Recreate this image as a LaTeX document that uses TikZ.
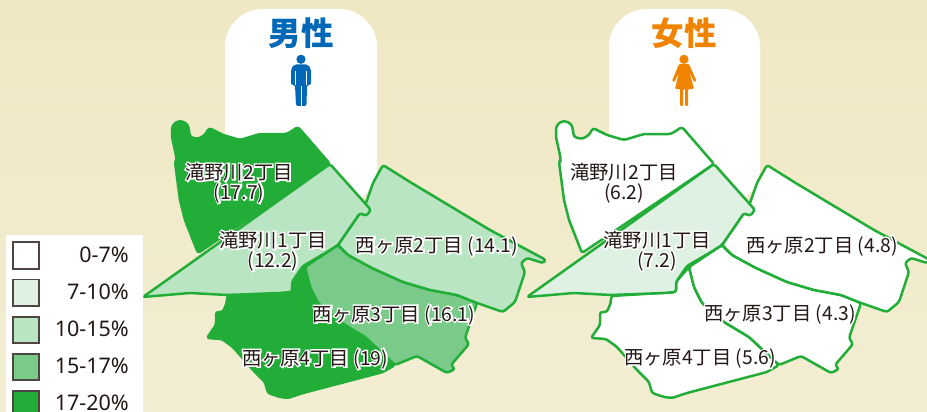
\documentclass[tikz,border=0pt]{standalone}
\usepackage{fontspec}
\setmainfont{Noto Sans CJK JP}
\newfontfamily\legendfont{Noto Sans}
\definecolor{mapgreen}{HTML}{22AC38}
\definecolor{lvlb}{HTML}{DEF1E3}
\definecolor{lvlc}{HTML}{BAE5C2}
\definecolor{lvld}{HTML}{7ACB8A}
\definecolor{inkc}{HTML}{231815}
\definecolor{boy}{HTML}{0068B7}
\definecolor{girl}{HTML}{F08300}
\definecolor{bgtop}{HTML}{EFE8C3}
\definecolor{bgbot}{HTML}{F3EED3}
\newcommand{\halo}[1]{\leavevmode\rlap{\textcolor{white}{\special{pdf:code 2 Tr 3 w}#1\special{pdf:code 0 Tr 1 w}}}#1}
\newcommand{\pTakiTwo}{(172,137) -- (172,127) -- (176,122) -- (182,121) -- (188,125) -- (190,137) -- (198,139) -- (205,135) -- (209,128) -- (223,135) -- (240,140) -- (260,134) -- (287,134) -- (298,127) -- (330,164) -- (198,253) -- (185,220) -- (180,200) -- (175,162) -- (177,160) -- cycle}
\newcommand{\pTakiOne}{(143,297) -- (330,164) -- (371,210) -- (366,216) -- (360,213) -- (338,245) -- (327,252) -- (303,266) -- (292,282) -- (292,292) -- (280,293) -- (227,295) -- (190,293) -- cycle}
\newcommand{\pNishiTwo}{(338,245) -- (360,213) -- (366,203) -- (373,183) -- (383,165) -- (410,182) -- (490,230) -- (546,260) -- (543,263) -- (527,258) -- (521,263) -- (525,272) -- (515,302) -- (503,312) -- (477,303) -- (457,295) -- (430,290) -- (403,282) -- (372,268) -- (348,255) -- cycle}
\newcommand{\pNishiThree}{(338,245) -- (348,255) -- (372,268) -- (403,282) -- (430,290) -- (457,295) -- (477,303) -- (465,338) -- (469,344) -- (451,365) -- (455,369) -- (447,373) -- (417,356) -- (395,365) -- (365,337) -- (340,322) -- (318,303) -- (310,287) -- (305,267) -- cycle}
\newcommand{\pNishiFour}{(305,267) -- (310,287) -- (318,303) -- (340,322) -- (365,337) -- (395,365) -- (383,372) -- (303,393) -- (288,398) -- (280,397) -- (268,393) -- (265,382) -- (253,370) -- (233,347) -- (222,339) -- (207,338) -- (216,325) -- (216,312) -- (223,312) -- (227,302) -- (227,296) -- (292,292) -- (292,282) -- cycle}
\tikzset{
  ward/.style={draw=mapgreen,line width=2.5pt,line join=round,rounded corners=2.5pt},
  wardtext/.style={inner sep=0pt,text=inkc,font=\fontsize{19.3}{22}\selectfont},
  swatch/.style={draw=inkc!80,line width=1.2pt},
  legendtext/.style={inner sep=0pt,anchor=east,text=inkc,font=\legendfont\fontsize{21.5}{24}\selectfont},
  heading/.style={inner sep=0pt,font=\fontsize{32.5}{36}\selectfont\bfseries},
  panel/.style={fill=white,rounded corners=38pt}
}
\begin{document}
\begin{tikzpicture}[x=1pt,y=-1pt]
\useasboundingbox (0,0) rectangle (927,412);
\shade[top color=bgtop,bottom color=bgbot] (0,0) rectangle (927,412);
% panels
\fill[panel] (225,9) rectangle (377,205);
\fill[panel] (609,9) rectangle (760,205);
\node[heading,text=boy] (mtitle) at (301,33) {\halo{男性}};
\node[heading,text=girl] (ftitle) at (684,33) {\halo{女性}};
% male icon
\fill[boy] (301,59.3) circle (4.6);
\fill[boy,rounded corners=2pt] (291,69) -- (294,64.5) -- (308,64.5) -- (311,69) -- (311,85) -- (307,85) -- (306.5,106) -- (296,106) -- (295,85) -- (291,85) -- cycle;
\draw[white,line width=.6pt] (301,86) -- (301,106);
\draw[white,line width=.5pt] (295.5,71) -- (295.5,85) (306.5,71) -- (306.5,85);
% female icon
\fill[girl] (684,59.3) circle (4.6);
\fill[girl,rounded corners=1pt] (679,64) -- (689,64) -- (696.5,81) -- (694,82) -- (689.5,72) -- (694,89) -- (688,89) -- (688,106) -- (685,106) -- (685,89) -- (683,89) -- (683,106) -- (680,106) -- (680,89) -- (675,89) -- (679,72) -- (674.5,82) -- (672,81) -- cycle;
% legend
\fill[white] (6,235) rectangle (143,412);
\draw[swatch,fill=white] (13,242) rectangle (39,269);
\draw[swatch,fill=lvlb] (13,279.5) rectangle (39,306);
\draw[swatch,fill=lvlc] (13,317) rectangle (39,343);
\draw[swatch,fill=lvld] (13,354) rectangle (39,380);
\draw[swatch,fill=mapgreen] (13,391) rectangle (39,417);
\node[legendtext] (la) at (129,255) {0-7\%};
\node[legendtext] (lb) at (129,292) {7-10\%};
\node[legendtext] (lc) at (129,329) {10-15\%};
\node[legendtext] (ld) at (129,366) {15-17\%};
\node[legendtext] (le) at (129,403) {17-20\%};
% male map
\path[ward,fill=mapgreen] \pTakiTwo;
\path[ward,fill=mapgreen] \pNishiFour;
\path[ward,fill=lvld] \pNishiThree;
\path[ward,fill=lvlc] \pNishiTwo;
\path[ward,fill=lvlc] \pTakiOne;
% female map
\begin{scope}[xshift=384pt]
\path[ward,fill=white] \pTakiTwo;
\path[ward,fill=white] \pNishiFour;
\path[ward,fill=white] \pNishiThree;
\path[ward,fill=white] \pNishiTwo;
\path[ward,fill=lvlb] \pTakiOne;
\end{scope}
% male labels
\node[wardtext] (m1) at (239,172) {\halo{滝野川2丁目}};
\node[wardtext] (m2) at (239,193) {\halo{(17.7)}};
\node[wardtext] (m3) at (273,240) {\halo{滝野川1丁目}};
\node[wardtext] (m4) at (273,261) {\halo{(12.2)}};
\node[wardtext] (m5) at (437,246) {\halo{西ヶ原2丁目 (14.1)}};
\node[wardtext] (m6) at (394,315) {\halo{西ヶ原3丁目 (16.1)}};
\node[wardtext] (m7) at (315,359) {\halo{西ヶ原4丁目 (19)}};
% female labels
\node[wardtext] (f1) at (624,172) {\halo{滝野川2丁目}};
\node[wardtext] (f2) at (624,193) {\halo{(6.2)}};
\node[wardtext] (f3) at (657,240) {\halo{滝野川1丁目}};
\node[wardtext] (f4) at (657,261) {\halo{(7.2)}};
\node[wardtext] (f5) at (822,246) {\halo{西ヶ原2丁目 (4.8)}};
\node[wardtext] (f6) at (780,314) {\halo{西ヶ原3丁目 (4.3)}};
\node[wardtext] (f7) at (700,358) {\halo{西ヶ原4丁目 (5.6)}};
\end{tikzpicture}
\end{document}
